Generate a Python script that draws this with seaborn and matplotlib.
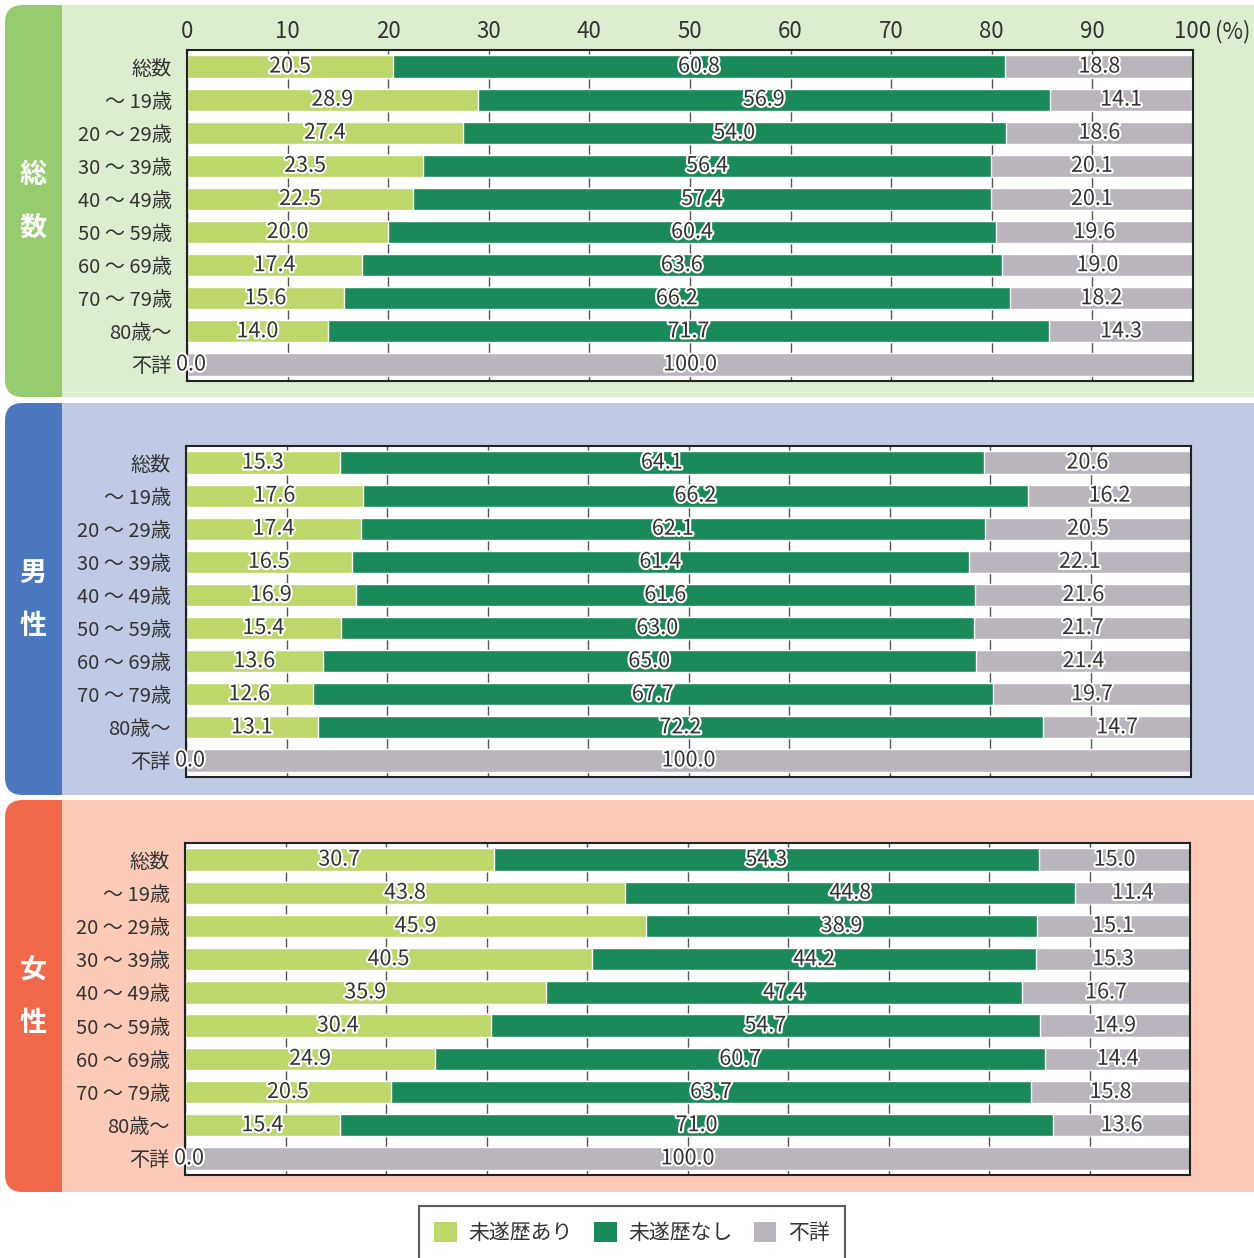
import matplotlib
matplotlib.use("Agg")
from matplotlib import pyplot as plt
from matplotlib.patches import FancyBboxPatch, Rectangle, Patch
import matplotlib.patheffects as pe
import seaborn as sns
import pandas as pd
import numpy as np

sns.set_theme(style="white")
plt.rcParams['font.family'] = ['Noto Sans CJK JP', 'DejaVu Sans']

# categories (rows, top to bottom)
categories = ['総数', '～ 19歳', '20 ～ 29歳', '30 ～ 39歳', '40 ～ 49歳',
              '50 ～ 59歳', '60 ～ 69歳', '70 ～ 79歳', '80歳～', '不詳']
series_names = ['未遂歴あり', '未遂歴なし', '不詳']
ticks = [0, 10, 20, 30, 40, 50, 60, 70, 80, 90, 100]

# 総数
total_yes = [20.5, 28.9, 27.4, 23.5, 22.5, 20.0, 17.4, 15.6, 14.0, 0.0]
total_no = [60.8, 56.9, 54.0, 56.4, 57.4, 60.4, 63.6, 66.2, 71.7, 0.0]
total_unk = [18.8, 14.1, 18.6, 20.1, 20.1, 19.6, 19.0, 18.2, 14.3, 100.0]
# 男性
male_yes = [15.3, 17.6, 17.4, 16.5, 16.9, 15.4, 13.6, 12.6, 13.1, 0.0]
male_no = [64.1, 66.2, 62.1, 61.4, 61.6, 63.0, 65.0, 67.7, 72.2, 0.0]
male_unk = [20.6, 16.2, 20.5, 22.1, 21.6, 21.7, 21.4, 19.7, 14.7, 100.0]
# 女性
female_yes = [30.7, 43.8, 45.9, 40.5, 35.9, 30.4, 24.9, 20.5, 15.4, 0.0]
female_no = [54.3, 44.8, 38.9, 44.2, 47.4, 54.7, 60.7, 63.7, 71.0, 0.0]
female_unk = [15.0, 11.4, 15.1, 15.3, 16.7, 14.9, 14.4, 15.8, 13.6, 100.0]

bar_colors = ['#bed76b', '#1b8a5a', '#bab5bc']

panels = [
    ('総数', (total_yes, total_no, total_unk), '#97cc6e', '#ddedd0'),
    ('男性', (male_yes, male_no, male_unk), '#4a77bd', '#c0cae5'),
    ('女性', (female_yes, female_no, female_unk), '#f1694a', '#fbcbb8'),
]

W, H = 1254, 1258
fig = plt.figure(figsize=(W / 100, H / 100), dpi=100)

# pixel boxes: panel (top, bottom), axes (left, right, top, bottom)
panel_px = [(5, 397), (403, 795), (800, 1192)]
axes_px = [(187, 1193, 50, 381), (186, 1191, 446, 777), (185, 1190, 843, 1175)]


def fx(px):
    return px / W


def fy(py):
    return 1 - py / H


for i, (title, vals, dark, light) in enumerate(panels):
    top, bot = panel_px[i]
    # rounded stripe (extends past right edge), then light area
    fig.patches.append(FancyBboxPatch(
        (fx(5), fy(bot)), fx(1300 - 5), fy(top) - fy(bot),
        boxstyle="round,pad=0,rounding_size=0.014",
        transform=fig.transFigure, facecolor=dark, edgecolor='none', zorder=-2))
    fig.patches.append(Rectangle(
        (fx(62), fy(bot)), fx(W - 62), fy(top) - fy(bot),
        transform=fig.transFigure, facecolor=light, edgecolor='none', zorder=-1))
    cy = (top + bot) / 2
    fig.text(fx(33), fy(cy - 26), title[0], color='white', fontsize=19.5,
             ha='center', va='center', fontweight='bold')
    fig.text(fx(33), fy(cy + 27), title[1], color='white', fontsize=19.5,
             ha='center', va='center', fontweight='bold')

    l, r, t, b = axes_px[i]
    ax = fig.add_axes([fx(l), fy(b), fx(r - l), fy(t) - fy(b)])
    ax.set_facecolor('white')

    df = pd.DataFrame({'cat': categories,
                       'yes': vals[0], 'no': vals[1], 'unk': vals[2]})
    df['c1'] = df['yes']
    df['c2'] = df['yes'] + df['no']
    df['c3'] = df['c2'] + df['unk']

    for col, color in zip(['c3', 'c2', 'c1'], bar_colors[::-1]):
        sns.barplot(data=df, x=col, y='cat', order=categories, color=color,
                    width=0.67, saturation=1, ax=ax, zorder=2)

    # value labels, centred on each segment
    starts = [np.zeros(len(df)), df['c1'].values, df['c2'].values]
    for s, (key, st) in enumerate(zip(['yes', 'no', 'unk'], starts)):
        for j, v in enumerate(df[key].values):
            if v <= 0 and s != 0:
                continue
            x = st[j] + v / 2 if v > 0 else 0.4
            ax.text(x, j, f'{v:.1f}', ha='center', va='center', fontsize=15.5,
                    color='#333333', zorder=5,
                    path_effects=[pe.withStroke(linewidth=3, foreground='white')])

    ax.set_xlim(0, 100)
    ax.set_ylim(9.5, -0.5)
    ax.set_xticks(ticks)
    ax.grid(axis='x', color='#555555', linewidth=1, zorder=0)
    ax.grid(axis='y', visible=False)
    ax.set_axisbelow(True)
    ax.set_xlabel('')
    ax.set_ylabel('')
    ax.tick_params(axis='y', length=0, labelsize=14.5, pad=11, labelcolor='#333333')
    ax.tick_params(axis='x', length=0, labelsize=16, pad=5, labelcolor='#333333',
                   top=False, bottom=False, labeltop=(i == 0), labelbottom=False)
    for sp in ax.spines.values():
        sp.set_color('#222222')
        sp.set_linewidth(1.5)
    if i == 0:
        ax.annotate('(%)', xy=(102.2, 1.0), xycoords=ax.get_xaxis_transform(),
                    xytext=(0, 5), textcoords='offset points',
                    ha='left', va='bottom', fontsize=16, color='#333333')

handles = [Patch(facecolor=c, edgecolor='none', label=n)
           for c, n in zip(bar_colors, series_names)]
leg = fig.legend(handles=handles, loc='lower center', bbox_to_anchor=(0.504, -0.0095),
                 ncol=3, frameon=True, fancybox=False, fontsize=15,
                 handlelength=1.1, handleheight=1.1, handletextpad=0.55,
                 columnspacing=1.0, borderpad=0.75)
leg.get_frame().set_edgecolor('#333333')
leg.get_frame().set_linewidth(1.5)
for t in leg.get_texts():
    t.set_color('#333333')

fig.savefig('out.png', dpi=100)
